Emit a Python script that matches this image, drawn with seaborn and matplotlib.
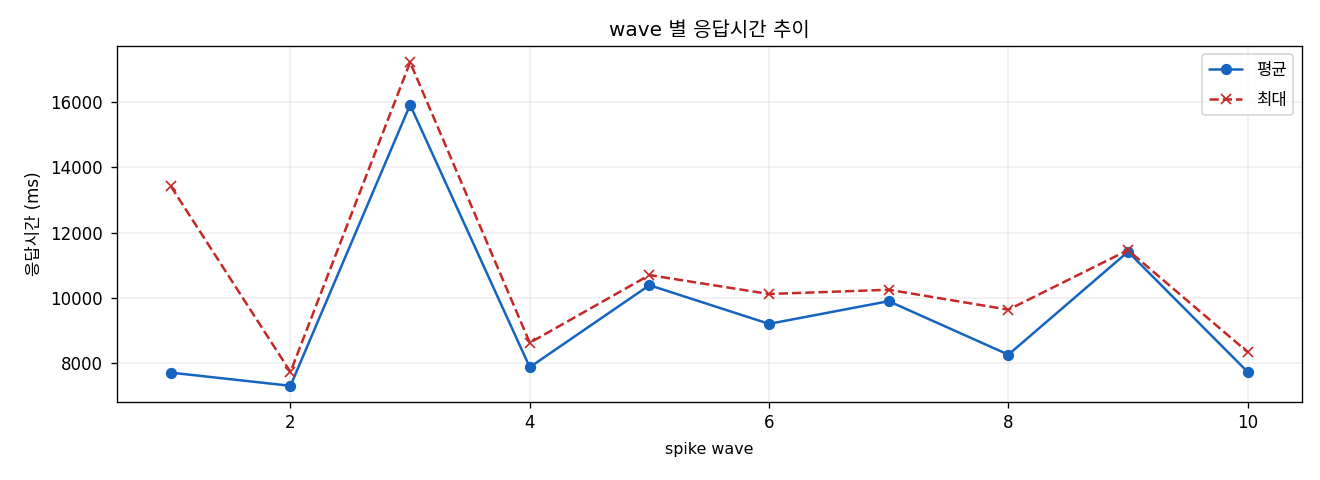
import matplotlib
matplotlib.use("Agg")
import matplotlib.pyplot as plt
import seaborn as sns
import pandas as pd

# wave 별 응답시간 데이터 (ms)
waves = [1, 2, 3, 4, 5, 6, 7, 8, 9, 10]
avg_ms = [7705, 7300, 15915, 7870, 10385, 9200, 9895, 8255, 11410, 7725]
max_ms = [13420, 7725, 17220, 8620, 10695, 10115, 10245, 9635, 11460, 8335]

df = pd.DataFrame({"wave": waves, "평균": avg_ms, "최대": max_ms})

sns.set_theme(style="white", rc={"text.color": "black", "axes.labelcolor": "black",
                                 "xtick.color": "black", "ytick.color": "black"})
plt.rcParams['font.family'] = ['DejaVu Sans', 'Noto Sans CJK KR']
plt.rcParams['axes.unicode_minus'] = False

fig, ax = plt.subplots(figsize=(11, 4), dpi=120)
sns.lineplot(data=df, x="wave", y="평균", marker="o", markersize=6, color="#1565c0",
             markeredgecolor="#1565c0", linewidth=1.5, label="평균", ax=ax)
sns.lineplot(data=df, x="wave", y="최대", marker="x", markersize=6, color="#c62828",
             markeredgecolor="#c62828", markeredgewidth=1.0, linestyle="--",
             linewidth=1.5, label="최대", ax=ax)

ax.set_title("wave 별 응답시간 추이", fontsize=12)
ax.set_xlabel("spike wave", fontsize=9.5, labelpad=6)
ax.set_ylabel("응답시간 (ms)", fontsize=10)
ax.tick_params(labelsize=10, length=3.5, width=0.8, bottom=True, left=True)
ax.tick_params(axis="y", pad=5)
ax.grid(True, alpha=0.3)
for s in ax.spines.values():
    s.set_color("black")
    s.set_linewidth(0.8)
ax.legend(loc="upper right", fontsize=10, labelspacing=0.7)

plt.subplots_adjust(left=0.0886, right=0.986, top=0.904, bottom=0.1625)
plt.savefig("out.png", dpi=120)
